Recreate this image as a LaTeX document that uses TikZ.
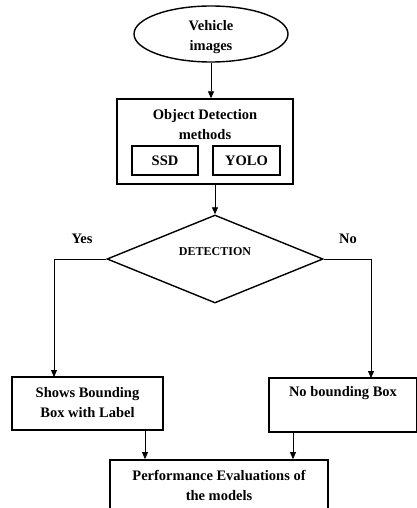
\documentclass[tikz,border=0pt]{standalone}
\usepackage{fontspec}
\setmainfont{Liberation Serif}
\usetikzlibrary{arrows.meta,shapes.geometric}

\begin{document}
\begin{tikzpicture}[
  x=1pt, y=-1pt,
  box/.style={draw, line width=1.4pt, inner sep=0pt},
  txt/.style={font=\bfseries\fontsize{14.5}{20}\selectfont, align=center, inner sep=0pt},
  line/.style={-{Triangle[width=6pt,length=7pt]}, line width=0.8pt}
]
\clip (0,0) rectangle (417,508);
\fill[white] (0,0) rectangle (417,508);

\node[box, ellipse, minimum width=154pt, minimum height=56pt] (veh) at (211,34) {};
\node[txt] (vehtext) at (211,37) {Vehicle\\images};

\node[box, minimum width=176pt, minimum height=85pt] (odm) at (205,141.5) {};
\node[txt] (odmtext) at (205,125) {Object Detection\\methods};
\node[box, minimum width=66pt, minimum height=29pt] (ssd) at (165,160.5) {};
\node[txt] (ssdtext) at (165,161) {SSD};
\node[box, minimum width=67pt, minimum height=29pt] (yolo) at (246.5,160.5) {};
\node[txt] (yolotext) at (246.5,161) {YOLO};

\node[box, diamond, minimum width=216pt, minimum height=88pt] (det) at (215,259) {};
\node[txt, font=\bfseries\fontsize{12}{14}\selectfont] (dettext) at (215,252) {DETECTION};
\node[txt] (yes) at (82,239) {Yes};
\node[txt] (no) at (348,239) {No};

\node[box, minimum width=151pt, minimum height=53pt] (shows) at (87.5,403.5) {};
\node[txt] (showstext) at (87.5,403) {Shows Bounding\\Box with Label};
\node[box, minimum width=148pt, minimum height=54pt] (nobox) at (343,405) {};
\node[txt] (noboxtext) at (343,393) {No bounding Box};

\node[box, line width=1.8pt, minimum width=218pt, minimum height=70pt] (perf) at (219,495) {};
\node[txt] (perftext) at (219,485) {Performance Evaluations of\\the models};

\coordinate (yesend) at (54,377);
\coordinate (noend) at (371,378);
\coordinate (showsout) at (145,430);
\coordinate (noboxout) at (293,432);

\draw[line] (veh.south) -- (veh.south |- odm.north);
\draw[line] (det.north |- odm.south) -- (det.north);
\draw[line] (det.west) -| (yesend);
\draw[line] (det.east) -| (noend);
\draw[line] (showsout) -- (showsout |- perf.north);
\draw[line] (noboxout) -- (noboxout |- perf.north);
\end{tikzpicture}
\end{document}
